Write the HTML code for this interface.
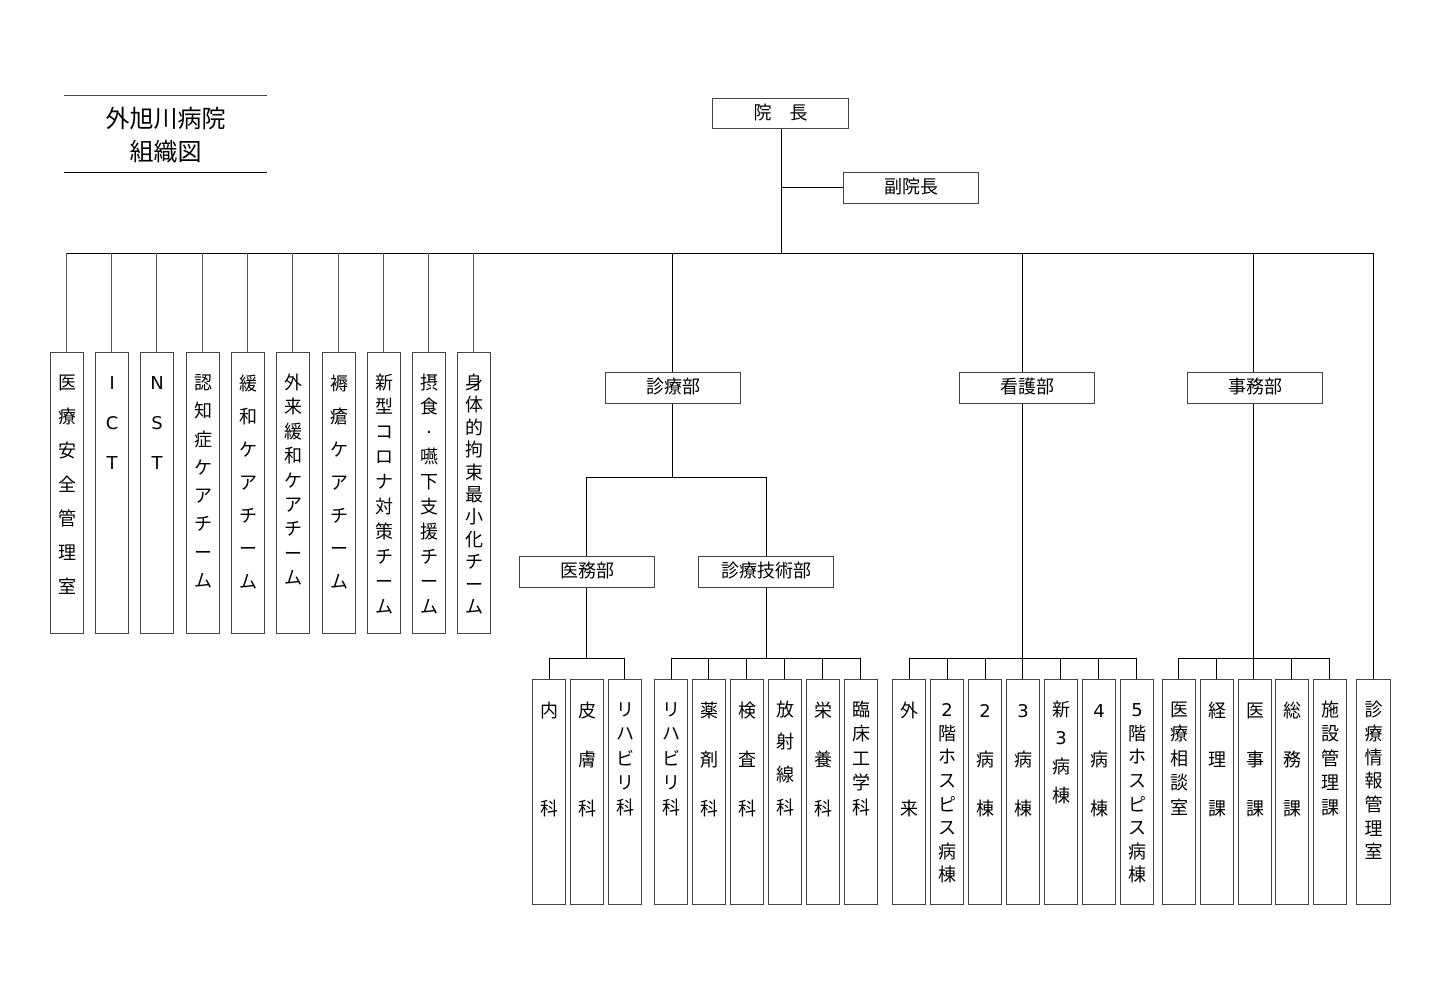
<!DOCTYPE html>
<html><head><meta charset="utf-8">
<style>
html,body{margin:0;padding:0;background:#fff;}
body{width:1440px;height:1000px;position:relative;overflow:hidden;font-family:"DejaVu Sans","Noto Sans CJK JP",sans-serif;color:#000;}
.h{position:absolute;border:1px solid #444;box-sizing:border-box;text-align:center;font-size:18px;line-height:30px;background:#fff;}
.v{position:absolute;border:1px solid #444;box-sizing:border-box;text-align:center;font-size:18px;background:#fff;}
.v span{display:block;}
.t{position:absolute;left:64px;width:203px;text-align:center;font-size:24px;line-height:33px;}
svg{position:absolute;left:0;top:0;}
</style></head><body>
<svg width="1440" height="1000" stroke="#000" stroke-width="1" fill="none" shape-rendering="crispEdges">
<line x1="64" y1="95.5" x2="267" y2="95.5" stroke="#444"/>
<line x1="64" y1="172.5" x2="267" y2="172.5"/>
<line x1="781.5" y1="128" x2="781.5" y2="253"/>
<line x1="781" y1="187.5" x2="843" y2="187.5"/>
<line x1="66" y1="253.5" x2="1374" y2="253.5"/>
<g stroke="#555">
<line x1="66.5" y1="253" x2="66.5" y2="352"/>
<line x1="111.5" y1="253" x2="111.5" y2="352"/>
<line x1="156.5" y1="253" x2="156.5" y2="352"/>
<line x1="202.5" y1="253" x2="202.5" y2="352"/>
<line x1="247.5" y1="253" x2="247.5" y2="352"/>
<line x1="292.5" y1="253" x2="292.5" y2="352"/>
<line x1="338.5" y1="253" x2="338.5" y2="352"/>
<line x1="383.5" y1="253" x2="383.5" y2="352"/>
<line x1="428.5" y1="253" x2="428.5" y2="352"/>
<line x1="473.5" y1="253" x2="473.5" y2="352"/>
</g>
<line x1="672.5" y1="253" x2="672.5" y2="372"/>
<line x1="672.5" y1="403" x2="672.5" y2="477"/>
<line x1="586" y1="477.5" x2="766" y2="477.5"/>
<line x1="586.5" y1="477" x2="586.5" y2="556"/>
<line x1="766.5" y1="477" x2="766.5" y2="556"/>
<line x1="586.5" y1="587" x2="586.5" y2="658"/>
<line x1="549" y1="658.5" x2="624" y2="658.5"/>
<line x1="549.5" y1="658" x2="549.5" y2="679"/>
<line x1="624.5" y1="658" x2="624.5" y2="679"/>
<line x1="766.5" y1="587" x2="766.5" y2="658"/>
<line x1="671" y1="658.5" x2="861" y2="658.5"/>
<line x1="671.5" y1="658" x2="671.5" y2="679"/>
<line x1="708.5" y1="658" x2="708.5" y2="679"/>
<line x1="746.5" y1="658" x2="746.5" y2="679"/>
<line x1="784.5" y1="658" x2="784.5" y2="679"/>
<line x1="822.5" y1="658" x2="822.5" y2="679"/>
<line x1="860.5" y1="658" x2="860.5" y2="679"/>
<line x1="1022.5" y1="253" x2="1022.5" y2="372"/>
<line x1="1022.5" y1="403" x2="1022.5" y2="679"/>
<line x1="909" y1="658.5" x2="1137" y2="658.5"/>
<line x1="909.5" y1="658" x2="909.5" y2="679"/>
<line x1="947.5" y1="658" x2="947.5" y2="679"/>
<line x1="985.5" y1="658" x2="985.5" y2="679"/>
<line x1="1060.5" y1="658" x2="1060.5" y2="679"/>
<line x1="1098.5" y1="658" x2="1098.5" y2="679"/>
<line x1="1136.5" y1="658" x2="1136.5" y2="679"/>
<line x1="1253.5" y1="253" x2="1253.5" y2="372"/>
<line x1="1253.5" y1="403" x2="1253.5" y2="679"/>
<line x1="1178" y1="658.5" x2="1330" y2="658.5"/>
<line x1="1178.5" y1="658" x2="1178.5" y2="679"/>
<line x1="1216.5" y1="658" x2="1216.5" y2="679"/>
<line x1="1291.5" y1="658" x2="1291.5" y2="679"/>
<line x1="1329.5" y1="658" x2="1329.5" y2="679"/>
<line x1="1373.5" y1="253" x2="1373.5" y2="679"/>
</svg>

<div class="t" style="top:103px">外旭川病院</div>
<div class="t" style="top:136px">組織図</div>

<div class="h" style="left:712px;top:98px;width:137px;height:31px;">院　長</div>
<div class="h" style="left:843px;top:172px;width:136px;height:32px;">副院長</div>
<div class="h" style="left:605px;top:372px;width:136px;height:32px;">診療部</div>
<div class="h" style="left:959px;top:372px;width:136px;height:32px;">看護部</div>
<div class="h" style="left:1187px;top:372px;width:136px;height:32px;">事務部</div>
<div class="h" style="left:519px;top:556px;width:136px;height:32px;">医務部</div>
<div class="h" style="left:698px;top:556px;width:136px;height:32px;">診療技術部</div>

<div class="v" style="left:50px;top:352px;width:34px;height:282px;padding-top:14px;line-height:34px"><span>医</span><span>療</span><span>安</span><span>全</span><span>管</span><span>理</span><span>室</span></div>
<div class="v" style="left:95px;top:352px;width:34px;height:282px;padding-top:11px;line-height:40px"><span>I</span><span>C</span><span>T</span></div>
<div class="v" style="left:140px;top:352px;width:34px;height:282px;padding-top:11px;line-height:40px"><span>N</span><span>S</span><span>T</span></div>
<div class="v" style="left:186px;top:352px;width:34px;height:282px;padding-top:17px;line-height:28.3px"><span>認</span><span>知</span><span>症</span><span>ケ</span><span>ア</span><span>チ</span><span>ー</span><span>ム</span></div>
<div class="v" style="left:231px;top:352px;width:34px;height:282px;padding-top:14.5px;line-height:33px"><span>緩</span><span>和</span><span>ケ</span><span>ア</span><span>チ</span><span>ー</span><span>ム</span></div>
<div class="v" style="left:276px;top:352px;width:34px;height:282px;padding-top:19px;line-height:24.4px"><span>外</span><span>来</span><span>緩</span><span>和</span><span>ケ</span><span>ア</span><span>チ</span><span>ー</span><span>ム</span></div>
<div class="v" style="left:322px;top:352px;width:34px;height:282px;padding-top:14.5px;line-height:33px"><span>褥</span><span>瘡</span><span>ケ</span><span>ア</span><span>チ</span><span>ー</span><span>ム</span></div>
<div class="v" style="left:367px;top:352px;width:34px;height:282px;padding-top:18.5px;line-height:24.9px"><span>新</span><span>型</span><span>コ</span><span>ロ</span><span>ナ</span><span>対</span><span>策</span><span>チ</span><span>ー</span><span>ム</span></div>
<div class="v" style="left:412px;top:352px;width:34px;height:282px;padding-top:18.5px;line-height:24.9px"><span>摂</span><span>食</span><span>·</span><span>嚥</span><span>下</span><span>支</span><span>援</span><span>チ</span><span>ー</span><span>ム</span></div>
<div class="v" style="left:457px;top:352px;width:34px;height:282px;padding-top:20px;line-height:22.4px"><span>身</span><span>体</span><span>的</span><span>拘</span><span>束</span><span>最</span><span>小</span><span>化</span><span>チ</span><span>ー</span><span>ム</span></div>

<div class="v" style="left:532px;top:679px;width:34px;height:226px;padding-top:6.5px;line-height:49px"><span>内</span><span>&nbsp;</span><span>科</span></div>
<div class="v" style="left:570px;top:679px;width:34px;height:226px;padding-top:6.5px;line-height:49px"><span>皮</span><span>膚</span><span>科</span></div>
<div class="v" style="left:608px;top:679px;width:34px;height:226px;padding-top:18.7px;line-height:24.5px"><span>リ</span><span>ハ</span><span>ビ</span><span>リ</span><span>科</span></div>

<div class="v" style="left:654px;top:679px;width:34px;height:226px;padding-top:18.7px;line-height:24.5px"><span>リ</span><span>ハ</span><span>ビ</span><span>リ</span><span>科</span></div>
<div class="v" style="left:692px;top:679px;width:34px;height:226px;padding-top:6.5px;line-height:49px"><span>薬</span><span>剤</span><span>科</span></div>
<div class="v" style="left:730px;top:679px;width:34px;height:226px;padding-top:6.5px;line-height:49px"><span>検</span><span>査</span><span>科</span></div>
<div class="v" style="left:768px;top:679px;width:34px;height:226px;padding-top:14.7px;line-height:32.7px"><span>放</span><span>射</span><span>線</span><span>科</span></div>
<div class="v" style="left:806px;top:679px;width:34px;height:226px;padding-top:6.5px;line-height:49px"><span>栄</span><span>養</span><span>科</span></div>
<div class="v" style="left:844px;top:679px;width:34px;height:226px;padding-top:18.7px;line-height:24.5px"><span>臨</span><span>床</span><span>工</span><span>学</span><span>科</span></div>

<div class="v" style="left:892px;top:679px;width:34px;height:226px;padding-top:6.5px;line-height:49px"><span>外</span><span>&nbsp;</span><span>来</span></div>
<div class="v" style="left:930px;top:679px;width:34px;height:226px;padding-top:19.2px;line-height:23.6px"><span>2</span><span>階</span><span>ホ</span><span>ス</span><span>ピ</span><span>ス</span><span>病</span><span>棟</span></div>
<div class="v" style="left:968px;top:679px;width:34px;height:226px;padding-top:6.5px;line-height:49px"><span>2</span><span>病</span><span>棟</span></div>
<div class="v" style="left:1006px;top:679px;width:34px;height:226px;padding-top:6.5px;line-height:49px"><span>3</span><span>病</span><span>棟</span></div>
<div class="v" style="left:1044px;top:679px;width:34px;height:226px;padding-top:16.7px;line-height:28.7px"><span>新</span><span>3</span><span>病</span><span>棟</span></div>
<div class="v" style="left:1082px;top:679px;width:34px;height:226px;padding-top:6.5px;line-height:49px"><span>4</span><span>病</span><span>棟</span></div>
<div class="v" style="left:1120px;top:679px;width:34px;height:226px;padding-top:19.2px;line-height:23.6px"><span>5</span><span>階</span><span>ホ</span><span>ス</span><span>ピ</span><span>ス</span><span>病</span><span>棟</span></div>

<div class="v" style="left:1162px;top:679px;width:34px;height:226px;padding-top:18.7px;line-height:24.5px"><span>医</span><span>療</span><span>相</span><span>談</span><span>室</span></div>
<div class="v" style="left:1200px;top:679px;width:34px;height:226px;padding-top:6.5px;line-height:49px"><span>経</span><span>理</span><span>課</span></div>
<div class="v" style="left:1238px;top:679px;width:34px;height:226px;padding-top:6.5px;line-height:49px"><span>医</span><span>事</span><span>課</span></div>
<div class="v" style="left:1275px;top:679px;width:34px;height:226px;padding-top:6.5px;line-height:49px"><span>総</span><span>務</span><span>課</span></div>
<div class="v" style="left:1313px;top:679px;width:34px;height:226px;padding-top:18.7px;line-height:24.5px"><span>施</span><span>設</span><span>管</span><span>理</span><span>課</span></div>

<div class="v" style="left:1356px;top:679px;width:35px;height:226px;padding-top:19.2px;line-height:23.7px"><span>診</span><span>療</span><span>情</span><span>報</span><span>管</span><span>理</span><span>室</span></div>
</body></html>
